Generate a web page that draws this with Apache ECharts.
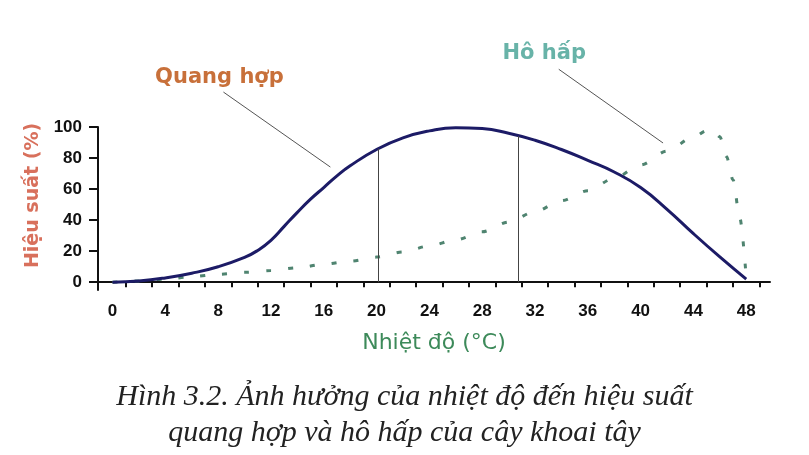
<!DOCTYPE html>
<html lang="vi">
<head>
    <meta charset="UTF-8">
    <title>Hình 3.2</title>
    <script src="https://cdn.jsdelivr.net/npm/echarts@6.0.0/dist/echarts.min.js"></script>
    <style>
        html, body { margin: 0; padding: 0; background: #fff; }
    </style>
</head>
<body>
    <div id="main" style="width:809px;height:455px;"></div>
</body>
<script type="text/javascript">
    // số liệu
    var quangHopX = [0, 2, 4, 6, 8, 10, 11, 12, 13, 14, 15, 16, 17, 18, 20, 22, 24, 26, 28, 30, 32, 34, 36, 38, 40, 42, 44, 46, 48];
    var quangHopY = [0, 0.8, 2.8, 5.8, 10, 16, 20.5, 27, 36, 45, 53.5, 61, 68.5, 75, 85.5, 93, 97.5, 99.5, 99, 96, 91.5, 85.5, 78.5, 71, 61, 47, 31.3, 16.3, 2];

    var hoHapX = [0, 2, 4, 6, 8, 10, 12, 14, 16, 18, 20, 22, 24, 26, 28, 30, 32, 34, 36, 38, 40, 42, 44, 45, 45.5, 46, 46.5, 47, 47.5, 48];
    var hoHapY = [0, 0.8, 2, 3.6, 5.1, 6.4, 7.5, 9.3, 11.6, 13.6, 16.2, 19.5, 23.4, 27.3, 32.5, 38.8, 45.5, 52.5, 59, 67, 75.5, 84.5, 93.5, 97.6, 98, 93.7, 81, 66, 42, 3];

    // hai đường dóng thẳng đứng
    var dropX = [20.1, 30.7];
    var dropY = [86, 94.2];

    var xLabels = [0, 4, 8, 12, 16, 20, 24, 28, 32, 36, 40, 44, 48];
    var xTicks = [1, 3, 5, 7, 9, 11, 13, 15, 17, 19, 21, 23, 25, 27, 29, 31, 33, 35, 37, 39, 41, 43, 45, 47, 49];
    var yLabels = [0, 20, 40, 60, 80, 100];

    function pairs(xs, ys) {
        var out = [];
        for (var i = 0; i < xs.length; i++) {
            out.push([xs[i], ys[i]]);
        }
        return out;
    }

    var dropLines = [];
    for (var i = 0; i < dropX.length; i++) {
        dropLines.push([{coord: [dropX[i], dropY[i]]}, {coord: [dropX[i], 0]}]);
    }

    var myChart = echarts.init(document.getElementById('main'));

    var option = {
        animation: false,
        backgroundColor: '#fff',
        title: {
            text: 'Hình 3.2. Ảnh hưởng của nhiệt độ đến hiệu suất\nquang hợp và hô hấp của cây khoai tây',
            left: 'center',
            top: 374,
            textStyle: {
                fontFamily: 'Liberation Serif',
                fontStyle: 'italic',
                fontWeight: 'normal',
                fontSize: 30,
                lineHeight: 36,
                color: '#222'
            }
        },
        grid: {
            left: 98,
            right: 39,
            top: 127,
            bottom: 165
        },
        xAxis: {
            type: 'value',
            min: -1.1,
            max: 49.8,
            name: 'Nhiệt độ (°C)',
            nameLocation: 'middle',
            nameGap: 42,
            nameTextStyle: {
                color: '#3d8a5a',
                fontFamily: 'DejaVu Sans',
                fontSize: 22
            },
            axisLine: {
                onZero: true,
                lineStyle: {color: '#111', width: 2}
            },
            axisTick: {
                customValues: xTicks,
                length: 5,
                lineStyle: {color: '#111', width: 2}
            },
            axisLabel: {
                customValues: xLabels,
                margin: 13,
                color: '#111',
                fontFamily: 'Liberation Sans',
                fontWeight: 'bold',
                fontSize: 17
            },
            splitLine: {show: false}
        },
        yAxis: {
            type: 'value',
            min: -5,
            max: 100,
            name: 'Hiệu suất (%)',
            nameLocation: 'middle',
            nameGap: 55,
            nameTextStyle: {
                color: '#d8705c',
                fontFamily: 'DejaVu Sans',
                fontWeight: 'bold',
                fontSize: 19,
                padding: [0, 0, 0, 26]
            },
            axisLine: {
                show: true,
                onZero: false,
                lineStyle: {color: '#111', width: 2}
            },
            axisTick: {
                show: true,
                customValues: yLabels,
                length: 9,
                lineStyle: {color: '#111', width: 2}
            },
            axisLabel: {
                customValues: yLabels,
                margin: 16,
                color: '#111',
                fontFamily: 'Liberation Sans',
                fontWeight: 'bold',
                fontSize: 17
            },
            splitLine: {show: false}
        },
        series: [
            {
                name: 'Hô hấp',
                type: 'line',
                data: pairs(hoHapX, hoHapY),
                smooth: 0.3,
                smoothMonotone: 'x',
                showSymbol: false,
                lineStyle: {
                    color: '#4f8470',
                    width: 3,
                    type: [5, 17]
                },
                z: 2
            },
            {
                name: 'Quang hợp',
                type: 'line',
                data: pairs(quangHopX, quangHopY),
                smooth: true,
                showSymbol: false,
                lineStyle: {color: '#1c1b66', width: 3},
                markLine: {
                    silent: true,
                    symbol: 'none',
                    label: {show: false},
                    lineStyle: {color: '#444', width: 1, type: 'solid'},
                    data: dropLines
                },
                z: 3
            }
        ]
    };

    myChart.setOption(option);

    // chú thích: vị trí tính theo thang đo của trục
    var notes = [
        {text: 'Quang hợp', color: '#c8703a', label: [8.1, 132], from: [8.4, 122.5], to: [16.5, 74.2]},
        {text: 'Hô hấp', color: '#68b3a8', label: [32.7, 147], from: [33.8, 137.2], to: [41.7, 89.7]}
    ];
    var graphics = [];
    notes.forEach(function (n) {
        var p = myChart.convertToPixel({gridIndex: 0}, n.label);
        var a = myChart.convertToPixel({gridIndex: 0}, n.from);
        var b = myChart.convertToPixel({gridIndex: 0}, n.to);
        graphics.push({
            type: 'text',
            x: p[0],
            y: p[1],
            style: {
                text: n.text,
                fill: n.color,
                font: 'bold 21px "DejaVu Sans"',
                align: 'center',
                verticalAlign: 'middle'
            }
        });
        graphics.push({
            type: 'line',
            shape: {x1: a[0], y1: a[1], x2: b[0], y2: b[1]},
            style: {stroke: '#555', lineWidth: 1}
        });
    });
    myChart.setOption({graphic: graphics});
</script>
</html>
